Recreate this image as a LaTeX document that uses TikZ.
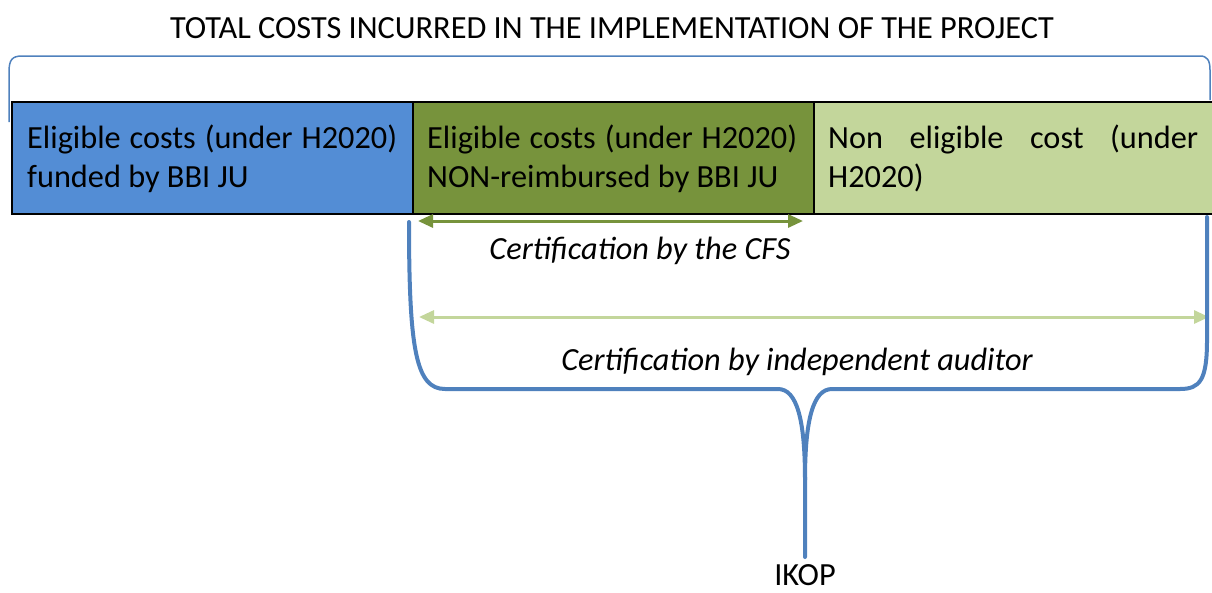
\documentclass[tikz,border=0pt]{standalone}
\usepackage{fontspec}
\setmainfont{Carlito}
\usetikzlibrary{arrows.meta}
\definecolor{cblue}{HTML}{538DD5}
\definecolor{cdark}{HTML}{77933C}
\definecolor{clight}{HTML}{C3D69B}
\definecolor{bracec}{HTML}{4F81BD}
\tikzset{
  cell/.style={draw=black, line width=2pt, minimum width=401pt, minimum height=112pt, inner sep=0pt, anchor=north west},
  celltext/.style={text width=370pt, align=justify, anchor=base west, inner sep=0pt, font=\fontsize{32.3}{39}\selectfont},
  lbl/.style={inner sep=0pt, anchor=base, font=\fontsize{32.3}{39}\selectfont},
  ilbl/.style={lbl, font=\fontsize{32.3}{39}\selectfont\itshape},
  dblarrow/.style={line width=3pt, {Triangle[length=15pt,width=13pt]}-{Triangle[length=15pt,width=13pt]}},
  bracethin/.style={draw=bracec, line width=1.5pt},
  bracethick/.style={draw=bracec, line width=4pt, line cap=round, line join=round}
}
\begin{document}
\begin{tikzpicture}[x=1pt,y=-1pt]
\useasboundingbox (0,0) rectangle (1212,592);
% title
\node[lbl] (title) at (612,38) {TOTAL COSTS INCURRED IN THE IMPLEMENTATION OF THE PROJECT};
% top thin brace
\draw[bracethin] (9,122) -- (9,72) .. controls (9,60) and (12,56) .. (22,56) -- (1200,56) .. controls (1207,56) and (1210,60) .. (1210,70) -- (1210,100);
% cells
\node[cell, fill=cblue] (c1) at (11,101) {};
\node[cell, fill=cdark] (c2) at (412,101) {};
\node[cell, fill=clight] (c3) at (813,101) {};
\node[celltext] (t1) at ([xshift=16pt]c1.west |- 0,148) {Eligible costs (under H2020) funded by BBI JU};
\node[celltext] (t2) at ([xshift=15pt]c2.west |- 0,148) {Eligible costs (under H2020) NON-reimbursed by BBI JU};
\node[celltext] (t3) at ([xshift=15pt]c3.west |- 0,148) {Non eligible cost (under H2020)};
% arrows
\coordinate (a1l) at (418,221);
\coordinate (a1r) at (803,221);
\draw[dblarrow, draw=cdark, fill=cdark] (a1l) -- (a1r);
\node[ilbl] (cfs) at (640,259) {Certification by the CFS};
\coordinate (a2l) at (419,317);
\coordinate (a2r) at (1209,317);
\draw[dblarrow, draw=clight, fill=clight] (a2l) -- (a2r);
\node[ilbl] (aud) at (797,370) {Certification by independent auditor};
% IKOP brace
\coordinate (bl) at (409,222);
\coordinate (br) at (1207,217);
\coordinate (tip) at (805,557);
\draw[bracethick] (bl) .. controls (409,350) and (416,389) .. (445,389) -- (778,389)
  .. controls (797,389) and (805,420) .. (805,480) -- (tip);
\draw[bracethick] (br) -- (1207,340) .. controls (1207,380) and (1200,389) .. (1180,389) -- (832,389)
  .. controls (813,389) and (805,420) .. (805,480);
\node[lbl, text depth=0pt] (ikop) at (805,585) {IKOP};
\end{tikzpicture}
\end{document}
